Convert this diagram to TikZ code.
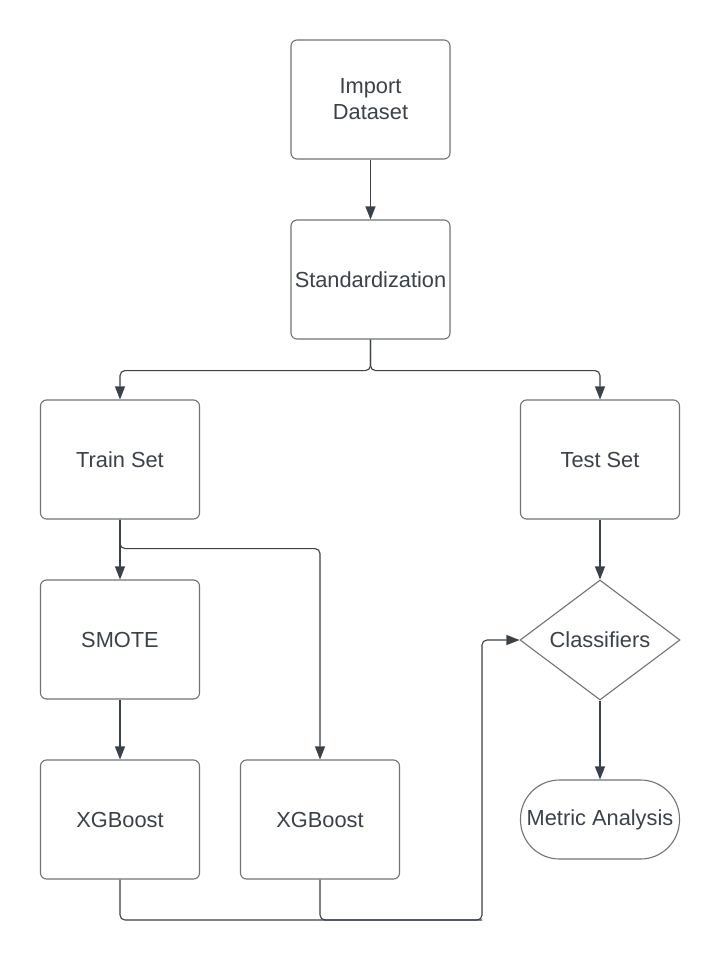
\documentclass[tikz,border=0pt]{standalone}
\usepackage{fontspec}
\setmainfont{Liberation Sans}
\usetikzlibrary{arrows.meta,shapes.geometric}
\definecolor{ink}{HTML}{3A414A}
\definecolor{edgec}{HTML}{6F7378}
\begin{document}
\begin{tikzpicture}[x=1pt,y=-1pt,
  lbl/.style={text=ink, font=\fontsize{21.8}{26}\selectfont},
  box/.style={lbl, draw=edgec, line width=1.1pt, rounded corners=6pt, minimum width=159pt, minimum height=119pt, align=center, inner sep=0pt},
  dia/.style={lbl, draw=edgec, line width=1.1pt, shape=diamond, minimum width=160pt, minimum height=120pt, inner sep=0pt},
  term/.style={lbl, draw=edgec, line width=1.1pt, rounded corners=39pt, minimum width=159pt, minimum height=79pt, inner sep=0pt},
  flow/.style={draw=ink, line width=1.1pt, rounded corners=5pt, -{Triangle[width=10pt,length=13pt]}},
  link/.style={draw=ink, line width=1.1pt, rounded corners=5pt}]
\useasboundingbox (0,0) rectangle (720,961);
\node[box] (import) at (370.5,99.5) {Import\\Dataset};
\node[box] (std) at (370.5,279.5) {Standardization};
\node[box] (train) at (120,459.5) {Train Set};
\node[box] (test) at (600,459.5) {Test Set};
\node[box] (smote) at (120,639.5) {SMOTE};
\node[box] (xg1) at (120,819.5) {XGBoost};
\node[box] (xg2) at (320,819.5) {XGBoost};
\node[dia] (cls) at (600,640) {\makebox[0pt]{Classifiers}};
\node[term] (metric) at (600,819.5) {Metric Analysis};
\coordinate (j) at (482,920);
\draw[flow] (import) -- (std);
\draw[flow] (std.south) -- ++(0,31) -| (train.north);
\draw[flow] (std.south) -- ++(0,31) -| (test.north);
\draw[flow] (train) -- (smote);
\draw[flow] (train.south) -- ++(0,29) -| (xg2.north);
\draw[flow] (smote) -- (xg1);
\draw[flow] (test) -- (cls);
\draw[flow] (cls) -- (metric);
\draw[link] (xg2.south) |- (j);
\draw[flow] (xg1.south) |- (j) |- (cls.west);
\end{tikzpicture}
\end{document}
